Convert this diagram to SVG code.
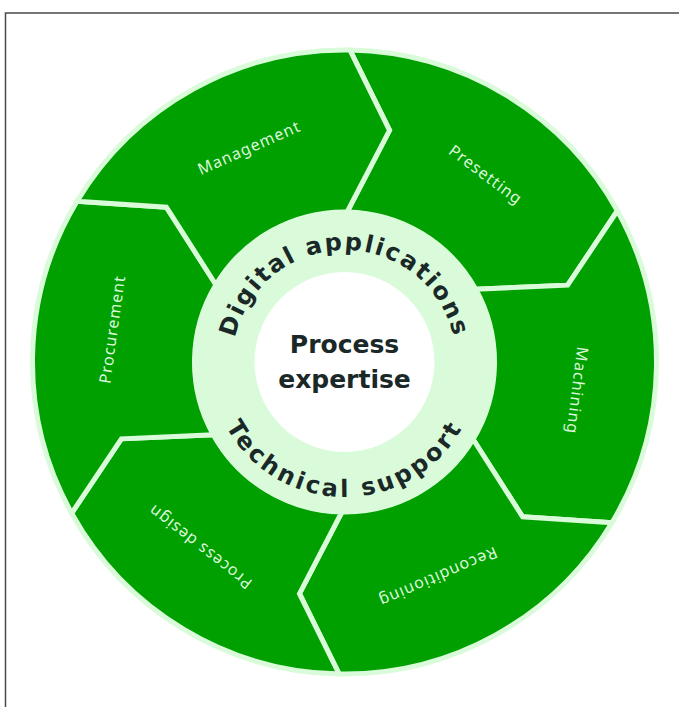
<svg xmlns="http://www.w3.org/2000/svg" width="679" height="707" viewBox="0 0 679 707">
<style>
.seg{fill:#00a000;stroke:#d9fbd9;stroke-width:5;stroke-linejoin:miter}
.lbl{font-family:"Noto Sans","Open Sans",sans-serif;font-size:16px;letter-spacing:1px;fill:#dcf8dc;text-anchor:middle;dominant-baseline:central}
.arc{font-family:"DejaVu Sans",sans-serif;font-weight:bold;font-size:24px;fill:#1a2828;text-anchor:middle}
.ctr{font-family:"DejaVu Sans",sans-serif;font-weight:bold;font-size:25px;fill:#1a2828;text-anchor:middle}
</style>
<defs>
<path id="topArc" d="M232.5 362 A112 112 0 0 1 456.5 362"/>
<path id="botArc" d="M209.5 362 A135 135 0 0 0 479.5 362"/>
</defs>
<rect width="679" height="707" fill="#ffffff"/>
<path d="M5.5 707 V13 H679" fill="none" stroke="#4a4a4a" stroke-width="1.5"/>
<g id="segments">
<g id="presetting">
<path class="seg" d="M347.12 212.02 L389.53 130.34 L349.95 50.05 A312 312 0 0 1 617.38 210.74 L567.64 285.17 L475.69 289.28 A150 150 0 0 0 347.12 212.02 Z"/>
<text class="lbl" transform="translate(485.93 174.32) rotate(37)">Presetting</text>
</g>
<g id="machining">
<path class="seg" d="M475.69 289.28 L567.64 285.17 L617.38 210.74 A312 312 0 0 1 611.94 522.69 L522.61 516.83 L473.08 439.26 A150 150 0 0 0 475.69 289.28 Z"/>
<text class="lbl" transform="translate(577.75 390.64) rotate(97)">Machining</text>
</g>
<g id="reconditioning">
<path class="seg" d="M473.08 439.26 L522.61 516.83 L611.94 522.69 A312 312 0 0 1 339.06 673.95 L299.47 593.66 L341.88 511.98 A150 150 0 0 0 473.08 439.26 Z"/>
<text class="lbl" transform="translate(438.21 577.51) rotate(156.5)">Reconditioning</text>
</g>
<g id="process-design">
<path class="seg" d="M341.88 511.98 L299.47 593.66 L339.06 673.95 A312 312 0 0 1 71.62 513.26 L121.36 438.83 L213.31 434.72 A150 150 0 0 0 341.88 511.98 Z"/>
<text class="lbl" transform="translate(199.82 547.18) rotate(218)">Process design</text>
</g>
<g id="procurement">
<path class="seg" d="M213.31 434.72 L121.36 438.83 L71.62 513.26 A312 312 0 0 1 77.06 201.31 L166.39 207.17 L215.92 284.74 A150 150 0 0 0 213.31 434.72 Z"/>
<text class="lbl" transform="translate(111.79 329.29) rotate(278)">Procurement</text>
</g>
<g id="management">
<path class="seg" d="M215.92 284.74 L166.39 207.17 L77.06 201.31 A312 312 0 0 1 349.95 50.05 L389.53 130.34 L347.12 212.02 A150 150 0 0 0 215.92 284.74 Z"/>
<text class="lbl" transform="translate(248.92 147.32) rotate(-24)">Management</text>
</g>
</g>
<g id="ring">
<circle cx="344.5" cy="362" r="152" fill="#d9fbd9"/>
<text class="arc" letter-spacing="2"><textPath href="#topArc" startOffset="50%">Digital applications</textPath></text>
<text class="arc" letter-spacing="3"><textPath href="#botArc" startOffset="50%">Technical support</textPath></text>
</g>
<g id="center">
<circle cx="344.5" cy="362" r="90" fill="#ffffff"/>
<text class="ctr" x="344.5" y="353">Process</text>
<text class="ctr" x="344.5" y="388">expertise</text>
</g>
</svg>
